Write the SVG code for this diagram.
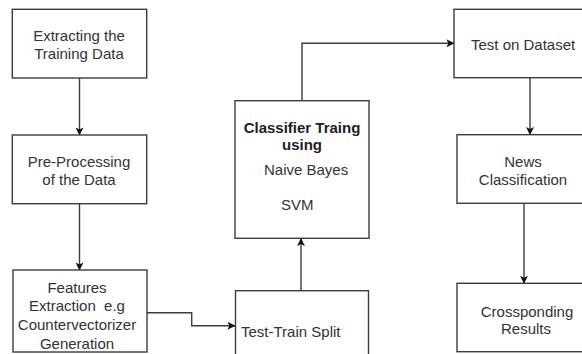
<svg xmlns="http://www.w3.org/2000/svg" width="582" height="354" viewBox="0 0 582 354">
  <style>
    .box { fill: #ffffff; stroke: #3c3c3c; stroke-width: 1.4; }
    .lbl { font-family: "Liberation Sans", Arial, Helvetica, sans-serif; font-size: 15px; fill: #333333; }
    .mid { text-anchor: middle; }
    .bold { font-weight: bold; fill: #1e1e1e; }
    .edge { fill: none; stroke: #3c3c3c; stroke-width: 1.4; marker-end: url(#arrow); }
  </style>
  <defs>
    <marker id="arrow" viewBox="0 0 10 10" refX="9.5" refY="5" markerWidth="8" markerHeight="8" markerUnits="userSpaceOnUse" orient="auto">
      <path d="M0,0 L10,5 L0,10 L2.5,5 z" fill="#111111"/>
    </marker>
  </defs>

  <rect width="582" height="354" fill="#ffffff"/>

  <g id="connectors">
    <path class="edge" d="M79.5,78 L79.5,135"/>
    <path class="edge" d="M79.5,204 L79.5,270"/>
    <path class="edge" d="M147,312.7 L191.7,312.7 L191.7,325.7 L235,325.7"/>
    <path class="edge" d="M301,290.7 L301,238.5"/>
    <path class="edge" d="M302,100.7 L302,43.3 L454,43.3"/>
    <path class="edge" d="M530,77.7 L530,134.7"/>
    <path class="edge" d="M524,203.3 L524,283.3"/>
  </g>

  <g id="extract-training">
    <rect class="box" x="12.3" y="9.3" width="134.4" height="68.7"/>
    <text class="lbl mid" x="79" y="40.5">Extracting the</text>
    <text class="lbl mid" x="79" y="59">Training Data</text>
  </g>

  <g id="preprocessing">
    <rect class="box" x="12.3" y="135" width="134.4" height="68.7"/>
    <text class="lbl mid" x="79" y="167.3">Pre-Processing</text>
    <text class="lbl mid" x="79" y="185.3">of the Data</text>
  </g>

  <g id="features">
    <rect class="box" x="13" y="270" width="134" height="82"/>
    <text class="lbl mid" x="77" y="293.3">Features</text>
    <text class="lbl mid" x="77" y="311" xml:space="preserve">Extraction  e.g</text>
    <text class="lbl mid" x="77" y="330">Countervectorizer</text>
    <text class="lbl mid" x="77" y="348.7">Generation</text>
  </g>

  <g id="test-train-split">
    <rect class="box" x="235.5" y="290.7" width="133" height="80"/>
    <text class="lbl" x="241" y="336.7">Test-Train Split</text>
  </g>

  <g id="classifier">
    <rect class="box" x="235" y="100.7" width="134" height="137.6"/>
    <text class="lbl mid bold" x="302" y="132.7">Classifier Traing</text>
    <text class="lbl mid bold" x="302" y="150">using</text>
    <text class="lbl" x="264" y="175">Naive Bayes</text>
    <text class="lbl" x="281" y="210">SVM</text>
  </g>

  <g id="test-dataset">
    <rect class="box" x="454" y="9.3" width="140" height="68.4"/>
    <text class="lbl" x="471" y="50">Test on Dataset</text>
  </g>

  <g id="news-classification">
    <rect class="box" x="457" y="134.7" width="137" height="68.6"/>
    <text class="lbl mid" x="523" y="166.7">News</text>
    <text class="lbl mid" x="523" y="185">Classification</text>
  </g>

  <g id="results">
    <rect class="box" x="457" y="283.3" width="137" height="68.4"/>
    <text class="lbl mid" x="527" y="316.7">Crossponding</text>
    <text class="lbl mid" x="526" y="334.3">Results</text>
  </g>
</svg>
